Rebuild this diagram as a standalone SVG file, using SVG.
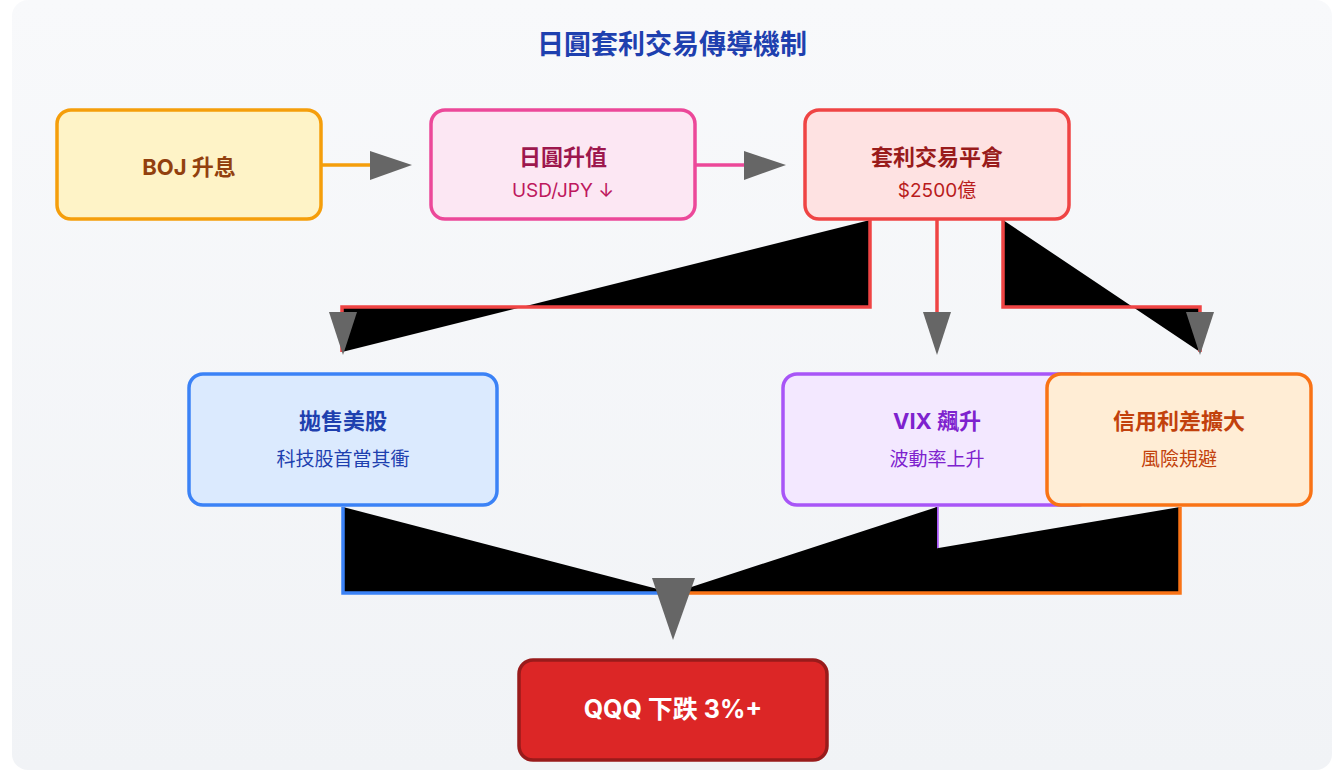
<svg xmlns="http://www.w3.org/2000/svg" width="1332" height="780" viewBox="0 0 1332 780">
<style>
text{font-family:"Inter","Noto Sans CJK TC",sans-serif;text-anchor:middle}
.t{font-size:22px;font-weight:700}
.s{font-size:19px}
.box{stroke-width:3.5}
.ah{fill:#666}
</style>
<defs><linearGradient id="bg" x1="0" y1="0" x2="0" y2="1"><stop offset="0" stop-color="#f8f9fb"/><stop offset="1" stop-color="#f1f3f6"/></linearGradient></defs>
<rect width="1332" height="780" fill="#fff"/>
<rect x="12" y="0" width="1320" height="770" rx="16" fill="url(#bg)"/>
<text x="672" y="54" style="font-size:27px;font-weight:700" fill="#1e40af">日圓套利交易傳導機制</text>
<g id="connectors">
<line x1="321" y1="165" x2="374" y2="165" stroke="#f59e0b" stroke-width="3.5"/>
<polygon class="ah" points="370,151 370,180 412,165"/>
<line x1="695" y1="165" x2="748" y2="165" stroke="#ec4899" stroke-width="3.5"/>
<polygon class="ah" points="744,151 744,180 786,165"/>
<path d="M870,220 V307 H342 V352" fill="#000" stroke="#ef4444" stroke-width="3.5"/>
<polygon class="ah" points="329,312 357,312 343,355"/>
<line x1="937" y1="220" x2="937" y2="314" stroke="#ef4444" stroke-width="3.5"/>
<polygon class="ah" points="923,312 951,312 937,355"/>
<path d="M1003,220 V307 H1200 V352" fill="#000" stroke="#ef4444" stroke-width="3.5"/>
<polygon class="ah" points="1186,312 1214,312 1200,355"/>
<path d="M343,507 V593 H673" fill="#000" stroke="#3b82f6" stroke-width="3.5"/>
<path d="M937,507 V548" fill="none" stroke="#a855f7" stroke-width="3.5"/>
<polygon points="937,507 937,570 673,593" fill="#000"/>
<path d="M1180,507 V593 H673" fill="#000" stroke="#f97316" stroke-width="3.5"/>
<polygon class="ah" points="652,578 695,578 673,640"/>
</g>
<g id="boj"><rect class="box" x="57" y="110" width="264" height="109" rx="14" fill="#fef3c7" stroke="#f59e0b"/><text class="t" x="189" y="175" fill="#92400e">BOJ 升息</text></g>
<g id="jpy"><rect class="box" x="431" y="110" width="264" height="109" rx="14" fill="#fce7f3" stroke="#ec4899"/><text class="t" x="563" y="165" fill="#9d174d">日圓升值</text><text class="s" x="563" y="197" fill="#be185d">USD/JPY ↓</text></g>
<g id="unwind"><rect class="box" x="805" y="110" width="264" height="109" rx="14" fill="#fee2e2" stroke="#ef4444"/><text class="t" x="937" y="165" fill="#991b1b">套利交易平倉</text><text class="s" x="937" y="197" fill="#b91c1c">$2500億</text></g>
<g id="sell"><rect class="box" x="189" y="374" width="308" height="131" rx="14" fill="#dbeafe" stroke="#3b82f6"/><text class="t" x="343" y="429" fill="#1e40af">拋售美股</text><text class="s" x="343" y="466" fill="#1e40af">科技股首當其衝</text></g>
<g id="vix"><rect class="box" x="783" y="374" width="308" height="131" rx="14" fill="#f3e8ff" stroke="#a855f7"/><text class="t" x="937" y="429" fill="#7e22ce">VIX 飆升</text><text class="s" x="937" y="466" fill="#7e22ce">波動率上升</text></g>
<g id="credit"><rect class="box" x="1047" y="374" width="264" height="131" rx="14" fill="#ffedd5" stroke="#f97316"/><text class="t" x="1179" y="429" fill="#c2410c">信用利差擴大</text><text class="s" x="1179" y="466" fill="#c2410c">風險規避</text></g>
<g id="qqq"><rect class="box" x="519" y="660" width="308" height="100" rx="14" fill="#dc2626" stroke="#991b1b"/><text x="673" y="718" style="font-size:25px;font-weight:700" fill="#fff">QQQ 下跌 3%+</text></g>
</svg>
